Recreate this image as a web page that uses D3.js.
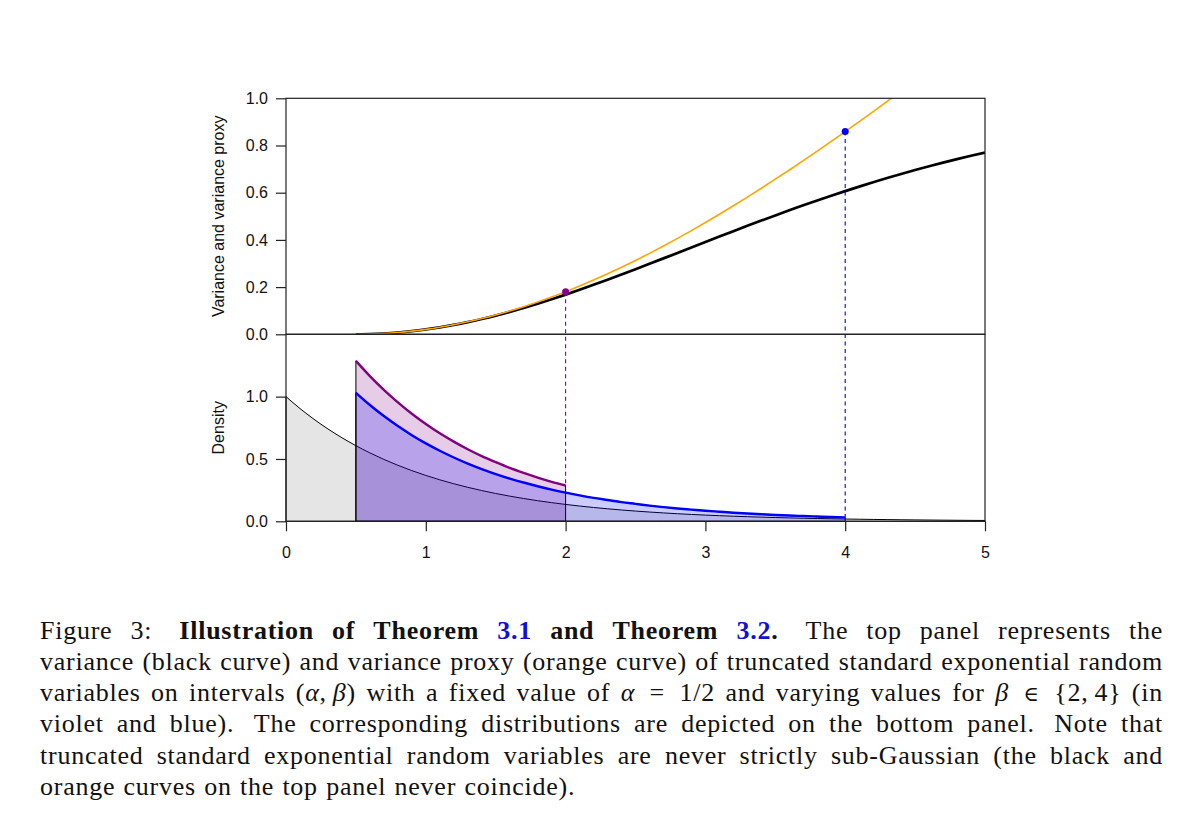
<!DOCTYPE html>
<html><head><meta charset="utf-8">
<script src="https://cdn.jsdelivr.net/npm/d3@7"></script>
<style>body{margin:0;background:#fff;}svg{display:block;}</style>
</head><body>
<svg id="c" width="1200" height="832"></svg>
<script>
// ---------- data ----------
// beta values 0.5 .. 5.0 (step 0.1)
const betaValues = [0.5,0.6,0.7,0.8,0.9,1.0,1.1,1.2,1.3,1.4,1.5,1.6,1.7,1.8,1.9,2.0,2.1,2.2,2.3,2.4,2.5,2.6,2.7,2.8,2.9,3.0,3.1,3.2,3.3,3.4,3.5,3.6,3.7,3.8,3.9,4.0,4.1,4.2,4.3,4.4,4.5,4.6,4.7,4.8,4.9,5.0];
// variance (black curve)
const varianceValues = [0.0000,0.0008,0.0033,0.0075,0.0132,0.0206,0.0295,0.0399,0.0517,0.0649,0.0793,0.0950,0.1118,0.1297,0.1485,0.1682,0.1886,0.2097,0.2313,0.2534,0.2759,0.2987,0.3217,0.3448,0.3680,0.3911,0.4141,0.4369,0.4595,0.4818,0.5037,0.5253,0.5464,0.5670,0.5871,0.6067,0.6257,0.6442,0.6620,0.6793,0.6959,0.7119,0.7274,0.7422,0.7564,0.7700];
// variance proxy (orange curve), beta 0.5 .. 4.4
const proxyValues = [0.0000,0.0008,0.0033,0.0075,0.0133,0.0207,0.0298,0.0405,0.0528,0.0666,0.0820,0.0989,0.1172,0.1370,0.1582,0.1808,0.2048,0.2300,0.2565,0.2842,0.3130,0.3430,0.3741,0.4063,0.4394,0.4736,0.5086,0.5445,0.5813,0.6189,0.6572,0.6962,0.7360,0.7764,0.8174,0.8590,0.9011,0.9438,0.9870,1.0306];
// highlighted betas
const markBeta = [2, 4];
const markProxy = [0.1808, 0.8590];
const markDensity = [0.287, 0.031];
const markColors = ["#8b008b", "#0000ff"];
// density grid x 0 .. 5 (step 0.1)
const xValues = [0.0,0.1,0.2,0.3,0.4,0.5,0.6,0.7,0.8,0.9,1.0,1.1,1.2,1.3,1.4,1.5,1.6,1.7,1.8,1.9,2.0,2.1,2.2,2.3,2.4,2.5,2.6,2.7,2.8,2.9,3.0,3.1,3.2,3.3,3.4,3.5,3.6,3.7,3.8,3.9,4.0,4.1,4.2,4.3,4.4,4.5,4.6,4.7,4.8,4.9,5.0];
// standard exponential density (grey)
const expDensity = [1.0000,0.9048,0.8187,0.7408,0.6703,0.6065,0.5488,0.4966,0.4493,0.4066,0.3679,0.3329,0.3012,0.2725,0.2466,0.2231,0.2019,0.1827,0.1653,0.1496,0.1353,0.1225,0.1108,0.1003,0.0907,0.0821,0.0743,0.0672,0.0608,0.0550,0.0498,0.0450,0.0408,0.0369,0.0334,0.0302,0.0273,0.0247,0.0224,0.0202,0.0183,0.0166,0.0150,0.0136,0.0123,0.0111,0.0101,0.0091,0.0082,0.0074,0.0067];
// truncated on (0.5, 2): x 0.5 .. 2.0
const violetDensity = [1.287,1.165,1.054,0.954,0.863,0.781,0.706,0.639,0.578,0.523,0.474,0.428,0.388,0.351,0.317,0.287];
// truncated on (0.5, 4): x 0.5 .. 4.0
const blueDensity = [1.031,0.933,0.844,0.764,0.691,0.625,0.566,0.512,0.463,0.419,0.379,0.343,0.311,0.281,0.254,0.230,0.208,0.188,0.171,0.154,0.140,0.126,0.114,0.103,0.094,0.085,0.077,0.069,0.063,0.057,0.051,0.046,0.042,0.038,0.034,0.031];
const xTicks = [0,1,2,3,4,5];
const topTicks = [0.0,0.2,0.4,0.6,0.8,1.0];
const bottomTicks = [0.0,0.5,1.0];
const topTitle = "Variance and variance proxy";
const bottomTitle = "Density";

// ---------- layout ----------
const svg = d3.select("#c");
const L = 286, R = 985, T = 98.3, M = 334.3, B = 521.3;
const x = d3.scaleLinear().domain([0,5]).range([L,R]);
const yTop = d3.scaleLinear().domain([0,1]).range([M,T]);
const yBot = d3.scaleLinear().domain([0,1.5]).range([B,M]);
const axisFont = "'Liberation Sans', Arial, Helvetica, sans-serif";

svg.append("defs").append("clipPath").attr("id","topclip")
  .append("rect").attr("x",L).attr("y",T).attr("width",R-L).attr("height",M-T);

// ---------- bottom panel ----------
const ptsExp = xValues.map((v,i)=>[v,expDensity[i]]);
const ptsViolet = violetDensity.map((d,i)=>[xValues[5+i], d]);
const ptsBlue = blueDensity.map((d,i)=>[xValues[5+i], d]);
const area = d3.area().x(d=>x(d[0])).y0(yBot(0)).y1(d=>yBot(d[1])).curve(d3.curveMonotoneX);
const line = (ys) => d3.line().x(d=>x(d[0])).y(d=>ys(d[1])).curve(d3.curveMonotoneX);

svg.append("path").attr("d", area(ptsExp)).attr("fill","#e5e5e5").attr("stroke","#000").attr("stroke-width",1);
svg.append("path").attr("d", area(ptsViolet)+"Z").attr("fill","rgba(128,0,128,0.2)").attr("stroke","#000").attr("stroke-width",1);
svg.append("path").attr("d", area(ptsBlue)+"Z").attr("fill","rgba(0,0,255,0.2)").attr("stroke","#000").attr("stroke-width",1);
svg.append("path").attr("d", line(yBot)(ptsViolet)).attr("fill","none").attr("stroke","#800080").attr("stroke-width",2.4);
svg.append("path").attr("d", line(yBot)(ptsBlue)).attr("fill","none").attr("stroke","#0000ff").attr("stroke-width",2.4);

// ---------- top panel ----------
const ptsVar = betaValues.map((b,i)=>[b,varianceValues[i]]);
const ptsProxy = proxyValues.map((p,i)=>[betaValues[i],p]);
const topG = svg.append("g").attr("clip-path","url(#topclip)");
topG.append("path").attr("d", line(yTop)(ptsVar)).attr("fill","none").attr("stroke","#000").attr("stroke-width",2.7);
topG.append("path").attr("d", line(yTop)(ptsProxy)).attr("fill","none").attr("stroke","#ffa500").attr("stroke-width",1.6);

// dashed connectors
markBeta.forEach((b,i)=>{
  svg.append("line").attr("x1",x(b)).attr("x2",x(b))
    .attr("y1",yTop(markProxy[i])).attr("y2",yBot(markDensity[i]))
    .attr("stroke",markColors[i]).attr("stroke-width",1.1).attr("stroke-dasharray","4,3.5");
});
markBeta.forEach((b,i)=>{
  svg.append("circle").attr("cx",x(b)).attr("cy",yTop(markProxy[i])).attr("r",3.5).attr("fill",markColors[i]);
});

// boxes
svg.append("rect").attr("x",L).attr("y",T).attr("width",R-L).attr("height",M-T).attr("fill","none").attr("stroke","#222").attr("stroke-width",1.2);
svg.append("rect").attr("x",L).attr("y",M).attr("width",R-L).attr("height",B-M).attr("fill","none").attr("stroke","#222").attr("stroke-width",1.2);

// axes
function styleAxis(g){
  g.select(".domain").remove();
  g.selectAll(".tick line").attr("stroke","#222").attr("stroke-width",1.2);
  g.selectAll(".tick text").attr("fill","#111").attr("font-family",axisFont).attr("font-size",16);
}
svg.append("g").attr("transform",`translate(${L},0)`)
  .call(d3.axisLeft(yTop).tickValues(topTicks).tickFormat(d3.format(".1f")).tickSize(10).tickPadding(8))
  .call(styleAxis);
svg.append("g").attr("transform",`translate(${L},0)`)
  .call(d3.axisLeft(yBot).tickValues(bottomTicks).tickFormat(d3.format(".1f")).tickSize(10).tickPadding(8))
  .call(styleAxis);
svg.append("g").attr("transform",`translate(0,${B})`)
  .call(d3.axisBottom(x).tickValues(xTicks).tickFormat(d3.format("d")).tickSize(10).tickPadding(15))
  .call(styleAxis);

// axis titles
svg.append("text").attr("transform",`translate(224,${(T+M)/2}) rotate(-90)`)
  .attr("text-anchor","middle").attr("font-family",axisFont).attr("font-size",16).attr("fill","#111").text(topTitle);
svg.append("text").attr("transform",`translate(224,${(M+B)/2}) rotate(-90)`)
  .attr("text-anchor","middle").attr("font-family",axisFont).attr("font-size",16).attr("fill","#111").text(bottomTitle);

// ---------- caption ----------
const captionLines = [
  "Figure 3: <b>Illustration of Theorem </b><l>3.1</l><b> and Theorem </b><l>3.2</l><b>.</b> The top panel represents the",
  "variance (black curve) and variance proxy (orange curve) of truncated standard exponential random",
  "variables on intervals (<i>α</i>,\u2009<i>β</i>) with a fixed value of <i>α</i>\u00a0\u00a0=\u00a0\u00a01/2 and varying values for <i>β</i>\u00a0\u00a0<m>∈</m>\u00a0\u00a0{2,\u20094} (in",
  "violet and blue). The corresponding distributions are depicted on the bottom panel. Note that",
  "truncated standard exponential random variables are never strictly sub-Gaussian (the black and",
  "orange curves on the top panel never coincide)."
];
const capFont = "'Liberation Serif', 'Times New Roman', serif";
const capSize = 26, capLeft = 40, capRight = 1163, capY0 = 638.5, capDY = 31.3;
const capSpacing = 0.75;

function parseLine(s){
  const chars = [];
  const re = /<(b|l|i|m)>(.*?)<\/\1>|([^<]+)/g;
  let m;
  while ((m = re.exec(s))){
    const st = m[1] || "r", txt = m[1] ? m[2] : m[3];
    for (const ch of txt) chars.push([ch, st]);
  }
  const words = []; let w = [];
  chars.forEach(([ch,st])=>{
    if (ch === " "){ if (w.length) words.push(w); w = []; }
    else w.push([ch,st]);
  });
  if (w.length) words.push(w);
  return words.map(wd=>{
    const runs = [];
    wd.forEach(([ch,st])=>{
      if (runs.length && runs[runs.length-1].st===st) runs[runs.length-1].t += ch;
      else runs.push({t:ch, st});
    });
    return runs;
  });
}
const capG = svg.append("g");
captionLines.forEach((s,li)=>{
  const words = parseLine(s);
  const y = capY0 + li*capDY;
  const els = words.map(runs=>{
    const t = capG.append("text").attr("y",y).attr("font-family",capFont).attr("font-size",capSize)
      .attr("fill","#111").attr("letter-spacing",capSpacing).style("white-space","pre");
    runs.forEach(r=>{
      const sp = t.append("tspan").text(r.t);
      if (r.st==="b"||r.st==="l") sp.attr("font-weight","bold");
      if (r.st==="l") sp.attr("fill","#1010d8");
      if (r.st==="i") sp.attr("font-style","italic");
      if (r.st==="m") sp.attr("font-size",21).attr("font-family","'DejaVu Serif', serif");
    });
    return t;
  });
  const widths = els.map(e=>e.node().getComputedTextLength());
  const weights = words.slice(0,-1).map(runs=>{
    const last = runs.map(r=>r.t).join("");
    return /[.:]\)?$/.test(last) ? 1.5 : 1;
  });
  const total = d3.sum(widths);
  const wsum = d3.sum(weights);
  let unit = (li === captionLines.length-1) ? capSize*0.32 : (capRight-capLeft-total)/wsum;
  let cx = capLeft;
  els.forEach((e,i)=>{
    e.attr("x",cx);
    cx += widths[i] + (i<weights.length ? weights[i]*unit : 0);
  });
});
</script>
</body></html>
